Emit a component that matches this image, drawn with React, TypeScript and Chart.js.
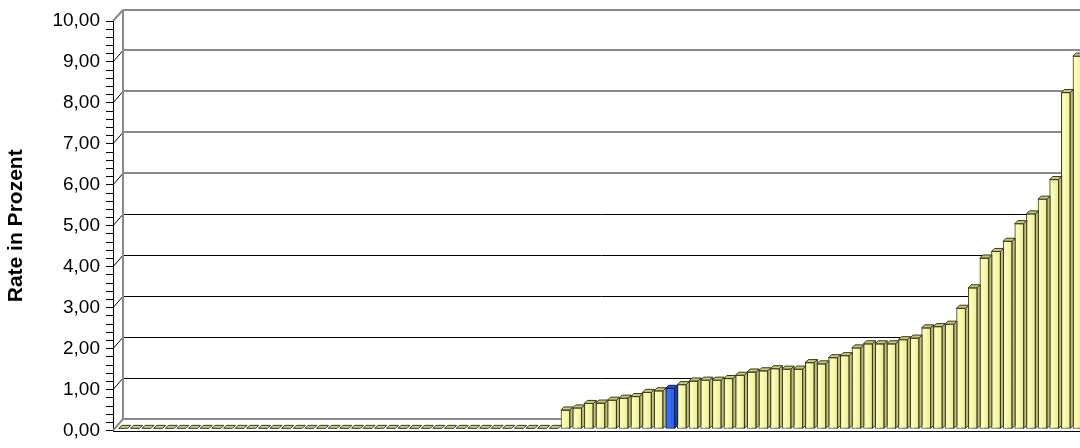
import React, { useEffect, useRef } from "react";
import { Chart, registerables } from "chart.js";

Chart.register(...registerables);

// Units without any recorded rate (drawn as flat slabs on the floor)
const zeroRates = [
  0, 0, 0, 0, 0, 0, 0, 0, 0, 0,
  0, 0, 0, 0, 0, 0, 0, 0, 0, 0,
  0, 0, 0, 0, 0, 0, 0, 0, 0, 0,
  0, 0, 0, 0, 0, 0, 0, 0,
];

// Units with a rate, sorted ascending (percent)
const positiveRates = [
  0.45, 0.5, 0.61, 0.62, 0.69, 0.74, 0.78, 0.88, 0.92, 0.98,
  1.07, 1.16, 1.18, 1.18, 1.22, 1.3, 1.38, 1.41, 1.46, 1.45,
  1.45, 1.61, 1.58, 1.73, 1.78, 1.97, 2.07, 2.07, 2.07, 2.17,
  2.21, 2.46, 2.49, 2.55, 2.94, 3.44, 4.17, 4.33, 4.58, 5.01,
  5.25, 5.61, 6.09, 8.22, 9.11,
];

const rates = [...zeroRates, ...positiveRates];

// The unit that is highlighted in blue
const highlightedIndex = 47;

const yTickLabels = [
  "0,00", "1,00", "2,00", "3,00", "4,00", "5,00",
  "6,00", "7,00", "8,00", "9,00", "10,00",
];

const axisTitle = "Rate in Prozent";

const FONT = "'Liberation Sans', Arial, Helvetica, sans-serif";

// 3D projection: front edge -> back wall, and the depth of a single bar
const WALL_DX = 10;
const WALL_DY = 11.5;
const BAR_DX = 3;
const BAR_DY = 3;

const yellow = {
  front: "#f5f59c",
  side: "#bfbf6c",
  cap: "#c8c876",
  outline: "#3a3a28",
  shine: "rgba(255,255,225,0.6)",
};
const blue = {
  front: "#2a5fe8",
  side: "#1b43ab",
  cap: "#2651c4",
  outline: "#0f1f5c",
  shine: "rgba(90,140,255,0.3)",
};

function line(ctx: CanvasRenderingContext2D, x1: number, y1: number, x2: number, y2: number) {
  ctx.beginPath();
  ctx.moveTo(x1, y1);
  ctx.lineTo(x2, y2);
  ctx.stroke();
}

function poly(ctx: CanvasRenderingContext2D, pts: number[][], fill: string, stroke: string) {
  ctx.beginPath();
  ctx.moveTo(pts[0][0], pts[0][1]);
  for (let i = 1; i < pts.length; i++) ctx.lineTo(pts[i][0], pts[i][1]);
  ctx.closePath();
  ctx.fillStyle = fill;
  ctx.fill();
  ctx.strokeStyle = stroke;
  ctx.lineWidth = 1;
  ctx.stroke();
}

// Back wall, floor and slanted tick connectors
const wallsPlugin = {
  id: "walls3d",
  beforeDatasetsDraw(chart: any) {
    const { ctx, chartArea, scales } = chart;
    const yf = scales.y;
    const left = chartArea.left;
    const right = chart.width;
    const backX = left + WALL_DX;
    const front = (v: number) => yf.getPixelForValue(v);
    const back = (v: number) => front(v) - WALL_DY;

    ctx.save();
    for (let v = 1; v <= 9; v++) {
      const yb = back(v);
      if (v >= 6) {
        ctx.strokeStyle = "#8a8a8a";
        ctx.lineWidth = 2;
        line(ctx, backX, Math.round(yb), right, Math.round(yb));
      } else {
        ctx.strokeStyle = "#000";
        ctx.lineWidth = 1;
        line(ctx, backX, Math.round(yb) + 0.5, right, Math.round(yb) + 0.5);
      }
      ctx.strokeStyle = "#000";
      ctx.lineWidth = 1;
      line(ctx, left, front(v), backX, yb);
    }

    // wall outline
    ctx.strokeStyle = "#8a8a8a";
    ctx.lineWidth = 2;
    const topY = Math.round(back(10));
    const floorY = Math.round(back(0));
    line(ctx, backX, topY, right, topY);
    line(ctx, backX, topY, backX, floorY);
    line(ctx, backX, floorY, right, floorY);
    line(ctx, left, front(10), backX, topY);
    line(ctx, left, front(0), backX, floorY);

    // front floor edge
    ctx.strokeStyle = "#000";
    ctx.lineWidth = 1;
    const fy = Math.round(front(0)) + 0.5;
    line(ctx, left, fy, right, fy);
    ctx.restore();
  },
  afterDatasetsDraw(chart: any) {
    const { ctx } = chart;
    const meta = chart.getDatasetMeta(0);
    ctx.save();
    meta.data.forEach((el: any, i: number) => {
      const { x, y, base, width } = el.getProps(["x", "y", "base", "width"], true);
      const l = x - width / 2;
      const r = x + width / 2;
      const pal = i === highlightedIndex ? blue : yellow;
      if (base - y < 1) {
        // flat slab for a zero value
        poly(ctx, [[l, base], [r, base], [r + BAR_DX, base - BAR_DY], [l + BAR_DX, base - BAR_DY]], "#c9c97c", pal.outline);
        return;
      }
      // soft highlight across the front face
      const g = ctx.createLinearGradient(l, 0, r, 0);
      g.addColorStop(0, "rgba(255,255,255,0)");
      g.addColorStop(0.3, pal.shine);
      g.addColorStop(0.65, "rgba(255,255,255,0)");
      g.addColorStop(1, "rgba(60,60,30,0.12)");
      ctx.fillStyle = g;
      ctx.fillRect(l + 1, y + 1, width - 2, base - y - 1);
      // right side
      poly(ctx, [[r, y], [r + BAR_DX, y - BAR_DY], [r + BAR_DX, base - BAR_DY], [r, base]], pal.side, pal.outline);
      // top cap
      poly(ctx, [[l, y], [r, y], [r + BAR_DX, y - BAR_DY], [l + BAR_DX, y - BAR_DY]], pal.cap, pal.outline);
    });
    ctx.restore();
  },
};

export default function App() {
  const canvasRef = useRef<HTMLCanvasElement | null>(null);

  useEffect(() => {
    const canvas = canvasRef.current;
    if (!canvas) return;

    const points = rates.map((v, i) => ({ x: i, y: v }));

    const chart = new Chart(canvas, {
      type: "bar",
      data: {
        datasets: [
          {
            data: points as any,
            xAxisID: "x",
            yAxisID: "yb",
            barThickness: 9,
            backgroundColor: rates.map((_, i) => (i === highlightedIndex ? blue.front : yellow.front)),
            borderColor: rates.map((_, i) => (i === highlightedIndex ? blue.outline : yellow.outline)),
            borderWidth: 1,
            borderSkipped: false,
          },
        ],
      },
      options: {
        responsive: false,
        animation: false,
        devicePixelRatio: 1,
        layout: { padding: { top: 21, bottom: 13, left: 0, right: 0 } },
        plugins: {
          legend: { display: false },
          tooltip: { enabled: false },
        },
        scales: {
          x: {
            type: "linear",
            display: false,
            offset: false,
            min: -0.885,
            max: 82.22,
          },
          yb: {
            type: "linear",
            display: false,
            position: "left",
            min: -0.055,
            max: 9.97,
          },
          y: {
            type: "linear",
            position: "left",
            min: 0,
            max: 10,
            afterFit(scale: any) {
              scale.width = 113;
            },
            ticks: {
              stepSize: 0.2,
              autoSkip: false,
              padding: 6,
              color: "#000",
              font: { family: FONT, size: 19 },
              callback(value: any) {
                const n = Number(value);
                const r = Math.round(n);
                return Math.abs(n - r) < 1e-6 ? yTickLabels[r] : "";
              },
            },
            grid: {
              drawOnChartArea: false,
              drawTicks: true,
              tickLength: 7,
              color: "#000",
            },
            border: { display: true, color: "#000", width: 1 },
            title: {
              display: true,
              text: axisTitle,
              color: "#000",
              font: { family: FONT, size: 21, weight: "bold" },
              padding: { top: 4, bottom: 0 },
            },
          },
        },
      },
      plugins: [wallsPlugin],
    });

    return () => chart.destroy();
  }, []);

  return (
    <div style={{ position: "absolute", left: 0, top: 0, width: 1080, height: 448, background: "#fff" }}>
      <canvas ref={canvasRef} width={1080} height={448} />
    </div>
  );
}
